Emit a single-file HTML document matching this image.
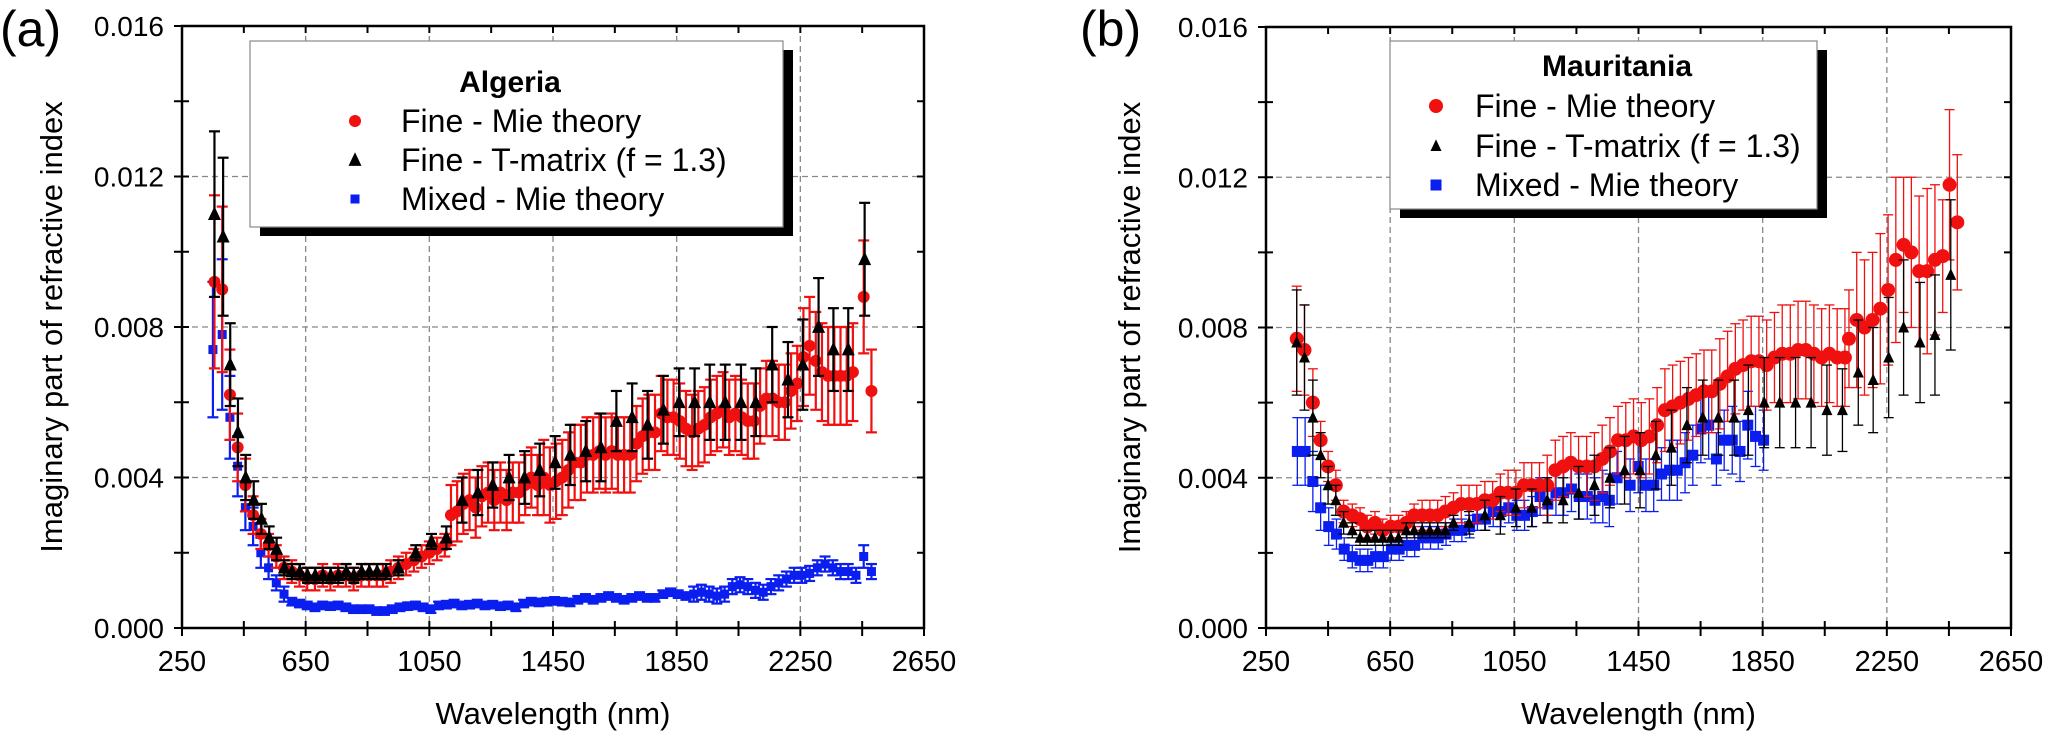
<!DOCTYPE html>
<html><head><meta charset="utf-8"><style>
html,body{margin:0;padding:0;background:#fff;}
svg{display:block;font-family:"Liberation Sans",sans-serif;}
</style></head><body>
<svg id="fig" width="2046" height="731" viewBox="0 0 2046 731" xmlns="http://www.w3.org/2000/svg">
<g id="panelA"></g>
<g id="panelB"></g>
</svg>
<script>
// ---------- Panel (a) Algeria data ----------
const aRedX=[355,380,405,430,455,480,505,530,555,580,605,630,
655,680,705,730,755,780,805,830,855,880,900,925,950,975,1000,1025,1050,1075,1100,
1120,1140,1160,1180,1200,1220,1240,1260,1280,1300,1320,1340,1360,1380,1400,1420,1440,1460,1480,1500,1520,1540,1560,1580,1600,1620,1640,1660,1680,1700,1720,1740,1760,1780,1800,1820,1840,1860,1880,1900,1920,1940,1960,1980,2000,2020,2040,2060,2080,2100,2120,2140,2160,2180,2200,2220,2240,
2260,2280,2300,2320,2340,2360,2380,2400,2420,2455,2480];
const aRedY=[.0092,.0090,.0062,.0048,.0038,.0030,.0025,.0022,.0019,.0016,.0015,.0014,
.0013,.0013,.0014,.0013,.0014,.0014,.0013,.0014,.0014,.0014,.0014,.0015,.0016,.0017,.0018,.0019,.0020,.0021,.0022,
.0030,.0031,.0033,.0034,.0032,.0035,.0036,.0034,.0036,.0034,.0036,.0036,.0038,.0040,.0038,.0040,.0038,.0039,.0040,.0042,.0044,.0044,.0046,.0046,.0047,.0046,.0047,.0046,.0046,.0046,.0049,.0051,.0052,.0052,.0057,.0056,.0056,.0055,.0053,.0052,.0053,.0054,.0056,.0057,.0058,.0056,.0057,.0056,.0055,.0055,.0059,.0061,.0061,.0060,.0060,.0063,.0065,
.0072,.0075,.0071,.0068,.0067,.0067,.0067,.0067,.0068,.0088,.0063];
const aRedE=[.0023,.0022,.0012,.0009,.0007,.0005,.0004,.0003,.0003,.0003,.0003,.0003,
.0003,.0003,.0003,.0003,.0003,.0003,.0003,.0003,.0003,.0003,.0003,.0003,.0003,.0003,.0003,.0003,.0003,.0003,.0003,
.0008,.0008,.0008,.0008,.0008,.0008,.0008,.0008,.0008,.0008,.0008,.0008,.0008,.0008,.0008,.0010,.0010,.0010,.0010,.0010,.0010,.0010,.0010,.0010,.0010,.0010,.0010,.0010,.0010,.0010,.0010,.0010,.0010,.0010,.0010,.0010,.0010,.0010,.0010,.0010,.0010,.0010,.0010,.0010,.0010,.0010,.0010,.0010,.0010,.0010,.0010,.0010,.0010,.0010,.0010,.0010,.0010,
.0013,.0013,.0013,.0013,.0013,.0013,.0013,.0013,.0013,.0015,.0011];
const aBlkX=[355,383,406,431,456,482,507,532,556,581,606,631,656,681,706,731,756,781,806,831,856,881,910,950,1006,1057,1105,1156,1207,1255,1308,1358,1407,1457,1506,1556,1605,1655,1706,1756,1807,1858,1908,1957,2007,2058,2106,2159,2210,2258,2309,2357,2405,2458];
const aBlkY=[.0110,.0104,.0070,.0052,.0040,.0034,.0029,.0024,.0021,.0016,.0015,.0015,.0014,.0014,.0014,.0014,.0014,.0015,.0014,.0015,.0015,.0015,.0015,.0016,.0020,.0023,.0024,.0034,.0036,.0038,.0040,.0040,.0042,.0044,.0046,.0047,.0048,.0055,.0056,.0054,.0058,.0060,.0060,.0060,.0060,.0060,.0060,.0070,.0066,.0070,.0080,.0074,.0074,.0098];
const aBlkE=[.0022,.0021,.0011,.0009,.0006,.0005,.0004,.0003,.0003,.0002,.0002,.0002,.0002,.0002,.0002,.0002,.0002,.0002,.0002,.0002,.0002,.0002,.0002,.0002,.0002,.0002,.0003,.0006,.0006,.0006,.0006,.0007,.0007,.0007,.0008,.0008,.0009,.0008,.0009,.0009,.0009,.0009,.0009,.0010,.0010,.0010,.0009,.0010,.0010,.0012,.0013,.0011,.0011,.0015];
const aBluX=[350,380,405,430,455,480,505,530,555,580,605,630,
655,680,705,730,755,780,805,830,855,880,905,930,955,980,1005,1030,1055,1080,1105,1130,1155,1180,1205,1230,1255,1280,1305,1330,1355,1380,1405,1430,1455,1480,1505,1530,1555,1580,1605,1630,1655,1680,1705,1730,1755,1780,1805,1830,1855,1880,1905,1930,1955,1980,2005,2030,2055,2080,2105,2130,2155,2180,2205,2230,2255,2280,2305,2330,2355,2380,2405,2430,2455,2480];
const aBluY=[.0074,.0078,.0056,.0043,.0032,.0027,.0020,.0016,.0012,.0009,.0007,.00065,
.0006,.00055,.0006,.00058,.0006,.00055,.0005,.0005,.0005,.00045,
.00045,.0005,.00055,.00058,.0006,.00055,.0005,.0006,.00062,.00065,
.0006,.00062,.00065,.0006,.00062,.00058,.0006,.00055,.00065,.0007,
.00068,.0007,.00072,.0007,.00068,.00075,.0008,.00075,.0008,.00085,
.0008,.00075,.0008,.00085,.0008,.0008,.0009,.00095,.0009,.00085,
.0009,.00095,.0009,.00085,.0009,.0011,.00115,.0011,.001,.00095,
.0011,.0012,.0013,.0014,.0014,.00145,.0016,.0017,.0016,.0015,
.0015,.0014,.0019,.0015];
const aBluE=[.0018,.0020,.0011,.0008,.0006,.0005,.0004,.0003,.0002,.0002,.0001,.0001,
.0001,.0001,.0001,.0001,.0001,.0001,.0001,.0001,.0001,.0001,
.0001,.0001,.0001,.0001,.0001,.0001,.0001,.0001,.0001,.0001,
.0001,.0001,.0001,.0001,.0001,.0001,.0001,.0001,.0001,.0001,
.0001,.0001,.0001,.0001,.0001,.0001,.0001,.0001,.0001,.0001,
.0001,.0001,.0001,.0001,.0001,.0001,.0001,.0001,.0001,.0001,
.0002,.0002,.0002,.0002,.0002,.0002,.0002,.0002,.0002,.0002,
.0002,.0002,.0002,.0002,.0002,.0002,.0002,.0002,.0002,.0002,
.0002,.0002,.0003,.0002];

// ---------- Panel (b) Mauritania data ----------
const bRedX=[349,374,401,426,450,475,500,528,553,576,601,626,
652,677,702,727,753,778,803,828,854,879,
904,929,955,980,1005,1030,1055,1081,1106,1131,
1156,1182,1207,1232,1257,1283,1308,1333,1358,1384,
1409,1434,1459,1485,1510,1535,1560,1585,1611,1636,
1661,1686,1712,1737,1762,1787,1813,1838,1863,1888,
1913,1939,1964,1989,2015,2040,2065,2090,2115,
2128,2153,2178,2204,2229,2254,2279,2304,2329,2354,
2380,2405,2430,2452,2477];
const bRedY=[.0077,.0074,.0060,.0050,.0043,.0038,.0031,.0030,.0029,.0027,.0028,.0026,
.0027,.0027,.0028,.0030,.0030,.0030,.0030,.0031,.0032,.0033,
.0033,.0033,.0034,.0034,.0036,.0036,.0036,.0038,.0038,.0038,
.0038,.0042,.0043,.0044,.0043,.0043,.0043,.0045,.0047,.0050,
.0050,.0051,.0050,.0051,.0054,.0058,.0059,.0060,.0061,.0062,
.0063,.0063,.0065,.0067,.0069,.0070,.0071,.0071,.0070,.0072,
.0073,.0073,.0074,.0074,.0073,.0072,.0073,.0072,.0072,
.0077,.0082,.0080,.0082,.0085,.0090,.0098,.0102,.0100,.0095,
.0095,.0098,.0099,.0118,.0108];
const bRedE=[.0014,.0012,.0009,.0005,.0004,.0004,.0003,.0003,.0003,.0003,.0003,.0003,
.0003,.0003,.0003,.0003,.0004,.0004,.0004,.0004,.0004,.0005,
.0005,.0005,.0005,.0005,.0005,.0006,.0006,.0006,.0006,.0006,
.0008,.0008,.0008,.0008,.0008,.0008,.0009,.0009,.0009,.0009,
.0010,.0010,.0010,.0010,.0010,.0011,.0011,.0011,.0011,.0011,
.0011,.0011,.0012,.0012,.0012,.0012,.0012,.0012,.0012,.0012,
.0013,.0013,.0013,.0013,.0013,.0013,.0013,.0013,.0013,
.0013,.0018,.0018,.0018,.0020,.0020,.0022,.0018,.0020,.0020,
.0022,.0020,.0015,.0020,.0018];
const bBlkX=[349,374,401,426,450,475,500,528,553,576,601,626,652,677,702,727,753,778,803,828,854,904,955,1005,1055,1106,1156,1207,1257,1308,1358,1405,1455,1506,1556,1606,1657,1707,1758,1804,1855,1905,1956,2006,2057,2107,2158,2206,2256,2304,2357,2405,2456];
const bBlkY=[.0076,.0072,.0056,.0046,.0038,.0034,.0028,.0026,.0024,.0024,.0024,.0024,
.0024,.0024,.0026,.0026,.0026,.0026,.0026,.0026,.0028,
.0028,.0030,.0030,.0032,.0032,.0034,.0034,.0036,.0038,.0040,
.0042,.0042,.0046,.0048,.0054,.0056,.0056,.0056,.0058,.0060,
.0060,.0060,.0060,.0058,.0058,.0068,.0066,.0072,.0080,.0076,
.0078,.0094];
const bBlkE=[.0014,.0014,.0010,.0006,.0005,.0004,.0003,.0002,.0002,.0002,.0002,.0002,
.0002,.0002,.0002,.0002,.0002,.0002,.0002,.0002,.0002,
.0003,.0004,.0005,.0005,.0005,.0006,.0006,.0007,.0008,.0008,
.0009,.0010,.0009,.0010,.0010,.0010,.0010,.0010,.0012,.0012,
.0012,.0012,.0012,.0012,.0011,.0014,.0014,.0016,.0018,.0016,
.0016,.0020];
const bBluX=[351,376,401,426,452,477,502,528,553,578,603,628,
654,679,704,729,755,780,805,830,856,881,
906,931,957,982,1007,1032,1058,1083,1108,1133,
1158,1184,1209,1234,1259,1285,1310,1335,1356,1381,
1423,1449,1474,1499,1524,1550,1575,1600,1625,1651,
1676,1701,1726,1752,1777,1802,1827,1853];
const bBluY=[.0047,.0047,.0039,.0032,.0027,.0025,.0021,.0019,.0018,.0018,.0019,.0019,
.0021,.0021,.0022,.0022,.0024,.0024,.0024,.0025,.0026,.0026,
.0027,.0029,.0029,.0031,.0031,.0032,.0030,.0030,.0031,.0035,
.0033,.0036,.0036,.0037,.0035,.0035,.0034,.0035,.0034,.0040,
.0038,.0043,.0038,.0038,.0041,.0042,.0042,.0044,.0046,.0053,
.0054,.0045,.0050,.0050,.0047,.0054,.0051,.0050];
const bBluE=[.0009,.0009,.0008,.0006,.0005,.0004,.0003,.0003,.0003,.0003,.0003,.0003,
.0003,.0003,.0003,.0003,.0003,.0003,.0003,.0003,.0003,.0003,
.0003,.0003,.0003,.0004,.0004,.0004,.0004,.0004,.0004,.0005,
.0005,.0006,.0006,.0006,.0006,.0006,.0006,.0007,.0007,.0007,
.0007,.0007,.0007,.0007,.0007,.0008,.0008,.0008,.0008,.0009,
.0009,.0007,.0008,.0009,.0008,.0009,.0008,.0008];

const xTicks=[250,650,1050,1450,1850,2250,2650];
const yTicks=[0,0.004,0.008,0.012,0.016];
const yTickLabels=["0.000","0.004","0.008","0.012","0.016"];

const NS="http://www.w3.org/2000/svg";
function mk(parent,tag,attrs,text){const e=document.createElementNS(NS,tag);for(const k in attrs)e.setAttribute(k,attrs[k]);if(text!==undefined)e.textContent=text;parent.appendChild(e);return e;}

function drawPanel(g,cfg){
  const {L,R,T,B}=cfg;
  const sx=v=>L+(v-250)/2400*(R-L);
  const sy=v=>B-(v/0.016)*(B-T);
  const grid=mk(g,'g',{});
  
  
  xTicks.slice(1,-1).forEach(t=>{mk(grid,'line',{x1:sx(t),x2:sx(t),y1:T,y2:B,stroke:'#888','stroke-width':1.3,'stroke-dasharray':'6,4'});});
  yTicks.slice(1,-1).forEach(t=>{mk(grid,'line',{x1:L,x2:R,y1:sy(t),y2:sy(t),stroke:'#888','stroke-width':1.3,'stroke-dasharray':'6,4'});});
  function series(name,X,Y,E,color,shape,size,ew,cap){
    const sg=mk(g,'g',{});
    
    
    for(let i=0;i<X.length;i++){
      const x=sx(X[i]),y1=sy(Y[i]+E[i]),y2=sy(Y[i]-E[i]);
      mk(sg,'line',{x1:x,x2:x,y1:y1,y2:y2,stroke:color,'stroke-width':ew});
      mk(sg,'line',{x1:x-cap/2,x2:x+cap/2,y1:y1,y2:y1,stroke:color,'stroke-width':ew});
      mk(sg,'line',{x1:x-cap/2,x2:x+cap/2,y1:y2,y2:y2,stroke:color,'stroke-width':ew});
    }
    for(let i=0;i<X.length;i++){
      marker(sg,shape,sx(X[i]),sy(Y[i]),size,color);
    }
  }
  series('mixed-mie-series',cfg.bluX,cfg.bluY,cfg.bluE,'#0a1ef0','sq',cfg.sq,cfg.ew,cfg.cap);
  series('fine-mie-series',cfg.redX,cfg.redY,cfg.redE,'#f01010','ci',cfg.ci,cfg.ew,cfg.cap);
  series('fine-tmatrix-series',cfg.blkX,cfg.blkY,cfg.blkE,'#000','tr',cfg.tr,cfg.ew,cfg.cap);
  const ax=mk(g,'g',{});
  
  
  mk(ax,'rect',{x:L,y:T,width:R-L,height:B-T,fill:'none',stroke:'#000','stroke-width':2.5});
  for(let v=250;v<=2650;v+=200){const x=sx(v);
    mk(ax,'line',{x1:x,x2:x,y1:B-7,y2:B+8,stroke:'#000','stroke-width':2});
    mk(ax,'line',{x1:x,x2:x,y1:T,y2:T+7,stroke:'#000','stroke-width':2});}
  for(let k=0;k<=8;k++){const y=sy(k*0.002);
    mk(ax,'line',{x1:L-8,x2:L+7,y1:y,y2:y,stroke:'#000','stroke-width':2});
    mk(ax,'line',{x1:R-7,x2:R,y1:y,y2:y,stroke:'#000','stroke-width':2});}
  xTicks.forEach(t=>{const e=mk(ax,'text',{x:sx(t),y:B+43,'font-size':29,'text-anchor':'middle',fill:'#000'},String(t));
    
    });
  yTicks.forEach((t,i)=>{const e=mk(ax,'text',{x:L-18,y:sy(t)+10,'font-size':28,'text-anchor':'end',fill:'#000'},yTickLabels[i]);
    
    });
  const xt=mk(g,'text',{x:(L+R)/2,y:724,'font-size':31,'text-anchor':'middle',fill:'#000'},'Wavelength (nm)');
  
  
  const yt=mk(g,'text',{x:0,y:0,'font-size':31,'text-anchor':'middle',fill:'#000',transform:`translate(${cfg.ytx},${(T+B)/2}) rotate(-90)`},'Imaginary part of refractive index');
  
  
  const pl=mk(g,'text',{x:cfg.plx,y:46,'font-size':50,fill:'#000'},cfg.label);
  
  
  const lg=mk(g,'g',{});
  
  
  const Lg=cfg.leg;
  mk(lg,'rect',{x:Lg.x+10,y:Lg.y+9,width:Lg.w,height:Lg.h,fill:'#000'});
  mk(lg,'rect',{x:Lg.x,y:Lg.y,width:Lg.w,height:Lg.h,fill:'#fff',stroke:'#888','stroke-width':1.2});
  const lt=mk(lg,'text',{x:Lg.tx,y:Lg.ty,'font-size':30,'font-weight':'bold','text-anchor':'middle',fill:'#000'},cfg.title);
  
  
  const entries=[['Fine - Mie theory','ci','#f01010'],['Fine - T-matrix (f = 1.3)','tr','#000'],['Mixed - Mie theory','sq','#0a1ef0']];
  entries.forEach((en,i)=>{
    const eg=mk(lg,'g',{});
    
    
    const y=Lg.ey[i];
    marker(eg,en[1],Lg.mx,y,en[1]==='ci'?cfg.ci:en[1]==='tr'?cfg.tr:cfg.sq,en[2]);
    mk(eg,'text',{x:Lg.lx,y:y+11,'font-size':32,fill:'#000'},en[0]);
  });
}
function marker(p,shape,x,y,s,c){
  if(shape==='ci')mk(p,'circle',{cx:x,cy:y,r:s,fill:c});
  else if(shape==='sq')mk(p,'rect',{x:x-s/2,y:y-s/2,width:s,height:s,fill:c});
  else mk(p,'polygon',{points:`${x},${y-s*0.6} ${x-s/2},${y+s*0.45} ${x+s/2},${y+s*0.45}`,fill:c});
}
drawPanel(document.getElementById('panelA'),{L:182,R:924,T:26,B:628,label:'(a)',plx:0,ytx:62,title:'Algeria',
  redX:aRedX,redY:aRedY,redE:aRedE,blkX:aBlkX,blkY:aBlkY,blkE:aBlkE,bluX:aBluX,bluY:aBluY,bluE:aBluE,
  ci:6,tr:13,sq:9,ew:2.2,cap:11,
  leg:{x:250,y:41,w:533,h:186,tx:510,ty:92,mx:355,lx:401,ey:[121,160,199]}});
drawPanel(document.getElementById('panelB'),{L:1266,R:2011,T:27,B:628,label:'(b)',plx:1080,ytx:1140,title:'Mauritania',
  redX:bRedX,redY:bRedY,redE:bRedE,blkX:bBlkX,blkY:bBlkY,blkE:bBlkE,bluX:bBluX,bluY:bBluY,bluE:bBluE,
  ci:7,tr:11,sq:11,ew:1.3,cap:10,
  leg:{x:1390,y:41,w:427,h:168,tx:1617,ty:76,mx:1436,lx:1475,ey:[106,146,185]}});
</script>
</body></html>
